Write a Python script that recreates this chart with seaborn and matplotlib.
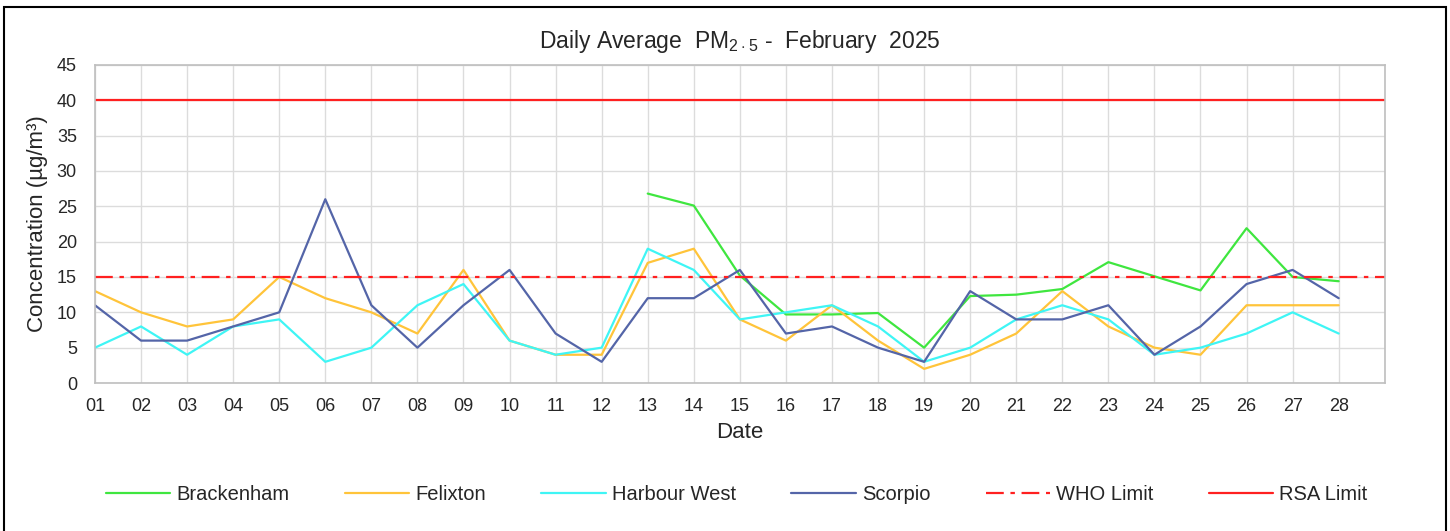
import numpy as np
import pandas as pd
import matplotlib
matplotlib.use("Agg")
import matplotlib.pyplot as plt
import seaborn as sns
from matplotlib.patches import Rectangle

days = list(range(1, 29))
day_labels = [f"{d:02d}" for d in days]

brackenham = [np.nan] * 12 + [26.8, 25.1, 15.2, 9.7, 9.7, 9.9, 5.0, 12.3, 12.5, 13.3,
                              17.1, 15.1, 13.1, 21.9, 15.0, 14.4]
felixton = [13, 10, 8, 9, 15, 12, 10, 7, 16, 6, 4, 4, 17, 19, 9, 6, 11, 6, 2, 4,
            7, 13, 8, 5, 4, 11, 11, 11]
harbour_west = [5, 8, 4, 8, 9, 3, 5, 11, 14, 6, 4, 5, 19, 16, 9, 10, 11, 8, 3, 5,
                9, 11, 9, 4, 5, 7, 10, 7]
scorpio = [11, 6, 6, 8, 10, 26, 11, 5, 11, 16, 7, 3, 12, 12, 16, 7, 8, 5, 3, 13,
           9, 9, 11, 4, 8, 14, 16, 12]
who_limit = 15
rsa_limit = 40

series = {"Brackenham": brackenham, "Felixton": felixton,
          "Harbour West": harbour_west, "Scorpio": scorpio}
colors = {"Brackenham": "#3FE63F", "Felixton": "#FFC43A",
          "Harbour West": "#3FF5F5", "Scorpio": "#5465A8"}

df = pd.DataFrame([{"Date": d, "Site": s, "Value": v}
                   for s, vals in series.items() for d, v in zip(days, vals)])

sns.set_style("white")
plt.rcParams["font.family"] = ["Liberation Sans", "DejaVu Sans"]
plt.rcParams["mathtext.fontset"] = "custom"
plt.rcParams["mathtext.rm"] = "Liberation Sans"

fig = plt.figure(figsize=(14.5, 5.31), dpi=100)
ax = fig.add_axes([0.0655, 0.2787, 0.8895, 0.599])

for site in series:
    sub = df[df["Site"] == site]
    sns.lineplot(data=sub, x="Date", y="Value", ax=ax, color=colors[site],
                 lw=1.6, label=site, legend=False)
ax.axhline(who_limit, color="#FF2020", lw=1.6, ls=(0, (8, 3, 2, 3)), label="WHO Limit")
ax.axhline(rsa_limit, color="#FF2020", lw=1.6, label="RSA Limit")

ax.set_xlim(1, 29)
ax.set_ylim(0, 45)
ax.set_xticks(days)
ax.set_xticklabels(day_labels)
ax.set_xticks([29], minor=True)
ax.set_yticks(range(0, 46, 5))
ax.grid(True, which="both", color="#DCDCDC", lw=1.0)
ax.tick_params(axis="x", labelsize=13, length=0, pad=11)
ax.tick_params(axis="y", labelsize=13, length=0, pad=13)
for sp in ax.spines.values():
    sp.set_color("#BFBFBF")
    sp.set_linewidth(1.2)
ax.set_xlabel("Date", fontsize=16, labelpad=5)
ax.set_ylabel("Concentration (µg/m³)", fontsize=16, labelpad=6)
ax.set_title(r"Daily Average  PM$_{2\cdot5}$ -  February  2025", fontsize=16.5, pad=12)

handles, labels = ax.get_legend_handles_labels()
fig.legend(handles, labels, loc="center", bbox_to_anchor=(0.508, 0.068), ncol=6,
           frameon=False, fontsize=14.5, handlelength=3.2, handletextpad=0.3,
           columnspacing=2.75)

fig.patches.append(Rectangle((0.003, -0.01), 0.994, 0.996, transform=fig.transFigure,
                             fill=False, edgecolor="black", lw=1.5))

fig.savefig("out.png", dpi=100, facecolor="white")
